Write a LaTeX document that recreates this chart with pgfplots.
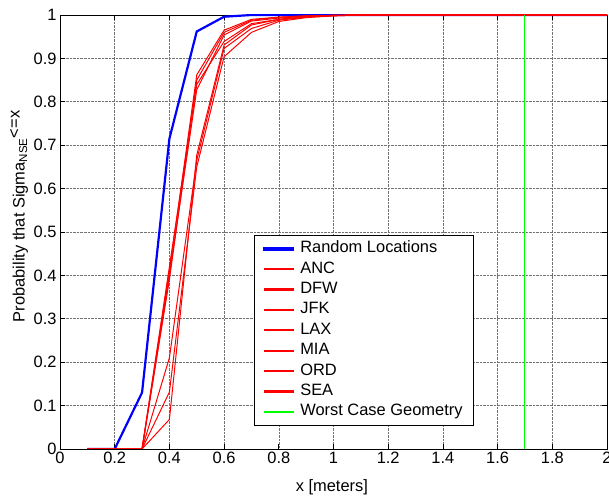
\documentclass[border=0pt]{standalone}
\usepackage{pgfplots}
\pgfplotsset{compat=1.18}
\usepackage{fontspec}
\setmainfont{Liberation Sans}
\definecolor{mgreen}{RGB}{0,255,0}
\definecolor{mred}{RGB}{255,0,0}
\definecolor{mblue}{RGB}{0,0,255}
\pgfplotsset{
  redline/.style={draw=mred, line width=1pt,
    legend image code/.code={\fill[mred] (0bp,-0.55bp) rectangle (29bp,0.55bp);}},
}
\begin{document}
\begin{tikzpicture}
\begin{axis}[
  scale only axis,
  width=547bp, height=434bp,
  xmin=0, xmax=2, ymin=0, ymax=1,
  xtick={0,0.2,...,2.01}, ytick={0,0.1,...,1.01},
  xticklabels={0,0.2,0.4,0.6,0.8,1,1.2,1.4,1.6,1.8,2},
  yticklabels={0,0.1,0.2,0.3,0.4,0.5,0.6,0.7,0.8,0.9,1},
  /pgf/number format/assume math mode=true,
  tick label style={font=\fontsize{16.5}{19}\selectfont},
  label style={font=\fontsize{16.5}{19}\selectfont},
  grid=major,
  grid style={densely dotted, black!55, line width=0.6pt},
  axis line style={line width=0.7pt},
  major tick length=5bp,
  tick style={line width=0.7pt, black},
  xlabel={x [meters]},
  ylabel={Probability that Sigma\textsubscript{NSE}\raisebox{5bp}{<=x}},
  xlabel style={at={(axis description cs:0.497,-0.088)}, anchor=center},
  ylabel style={at={(axis description cs:-0.075,0.536)}, anchor=center, rotate=0},
  legend cell align=left,
  legend style={at={(axis cs:0.709,0.493)}, anchor=north west,
    draw=black, fill=white,
    font=\fontsize{16.5}{19}\selectfont,
    inner xsep=9bp, inner ysep=3.5bp, row sep=0.4bp,
    nodes={inner sep=2bp, text height=12bp, text depth=4bp},
    /tikz/every odd column/.append style={column sep=4bp}},
]
\addplot[draw=mblue, line width=2.2pt,
  legend image code/.code={\fill[mblue] (0bp,-0.9bp) rectangle (29bp,0.9bp);}] coordinates {
 (0.1,0) (0.2,0) (0.3,0.13) (0.4,0.715) (0.5,0.962) (0.6,0.996) (0.7,1) (0.8,1) (0.9,1) (1.0,1)
 (1.1,1) (1.2,1) (1.3,1) (1.4,1) (1.5,1) (1.6,1) (1.7,1) (1.8,1) (1.9,1) (2.0,1)};
\addlegendentry{Random Locations}
\addplot[redline] coordinates {
 (0.1,0) (0.2,0) (0.3,0) (0.4,0.41) (0.5,0.862) (0.6,0.965) (0.7,0.99) (0.8,0.995) (0.9,0.998) (1.0,0.999)
 (1.1,1) (1.2,1) (1.3,1) (1.4,1) (1.5,1) (1.6,1) (1.7,1) (1.8,1) (1.9,1) (2.0,1)};
\addlegendentry{ANC}
\addplot[redline] coordinates {
 (0.1,0) (0.2,0) (0.3,0) (0.4,0.40) (0.5,0.828) (0.6,0.954) (0.7,0.986) (0.8,0.993) (0.9,0.997) (1.0,0.999)
 (1.1,1) (1.2,1) (1.3,1) (1.4,1) (1.5,1) (1.6,1) (1.7,1) (1.8,1) (1.9,1) (2.0,1)};
\addlegendentry{DFW}
\addplot[redline] coordinates {
 (0.1,0) (0.2,0) (0.3,0) (0.4,0.068) (0.5,0.677) (0.6,0.931) (0.7,0.977) (0.8,0.99) (0.9,0.996) (1.0,0.999)
 (1.1,1) (1.2,1) (1.3,1) (1.4,1) (1.5,1) (1.6,1) (1.7,1) (1.8,1) (1.9,1) (2.0,1)};
\addlegendentry{JFK}
\addplot[redline] coordinates {
 (0.1,0) (0.2,0) (0.3,0) (0.4,0.39) (0.5,0.85) (0.6,0.96) (0.7,0.988) (0.8,0.995) (0.9,0.998) (1.0,0.999)
 (1.1,1) (1.2,1) (1.3,1) (1.4,1) (1.5,1) (1.6,1) (1.7,1) (1.8,1) (1.9,1) (2.0,1)};
\addlegendentry{LAX}
\addplot[redline] coordinates {
 (0.1,0) (0.2,0) (0.3,0) (0.4,0.131) (0.5,0.65) (0.6,0.904) (0.7,0.96) (0.8,0.985) (0.9,0.994) (1.0,0.998)
 (1.1,1) (1.2,1) (1.3,1) (1.4,1) (1.5,1) (1.6,1) (1.7,1) (1.8,1) (1.9,1) (2.0,1)};
\addlegendentry{MIA}
\addplot[redline] coordinates {
 (0.1,0) (0.2,0) (0.3,0) (0.4,0.42) (0.5,0.84) (0.6,0.939) (0.7,0.98) (0.8,0.99) (0.9,0.996) (1.0,0.999)
 (1.1,1) (1.2,1) (1.3,1) (1.4,1) (1.5,1) (1.6,1) (1.7,1) (1.8,1) (1.9,1) (2.0,1)};
\addlegendentry{ORD}
\addplot[redline] coordinates {
 (0.1,0) (0.2,0) (0.3,0) (0.4,0.21) (0.5,0.665) (0.6,0.923) (0.7,0.969) (0.8,0.988) (0.9,0.995) (1.0,0.998)
 (1.1,1) (1.2,1) (1.3,1) (1.4,1) (1.5,1) (1.6,1) (1.7,1) (1.8,1) (1.9,1) (2.0,1)};
\addlegendentry{SEA}
\addplot[draw=mgreen, line width=1pt,
  legend image code/.code={\fill[mgreen] (0bp,-0.55bp) rectangle (29bp,0.55bp);}] coordinates {(1.7,0) (1.7,1)};
\addlegendentry{Worst Case Geometry}
\end{axis}
\pgfresetboundingbox
\path ([xshift=-60bp,yshift=-48bp]current axis.south west) rectangle ([xshift=2bp,yshift=15bp]current axis.north east);
\end{tikzpicture}
\end{document}
